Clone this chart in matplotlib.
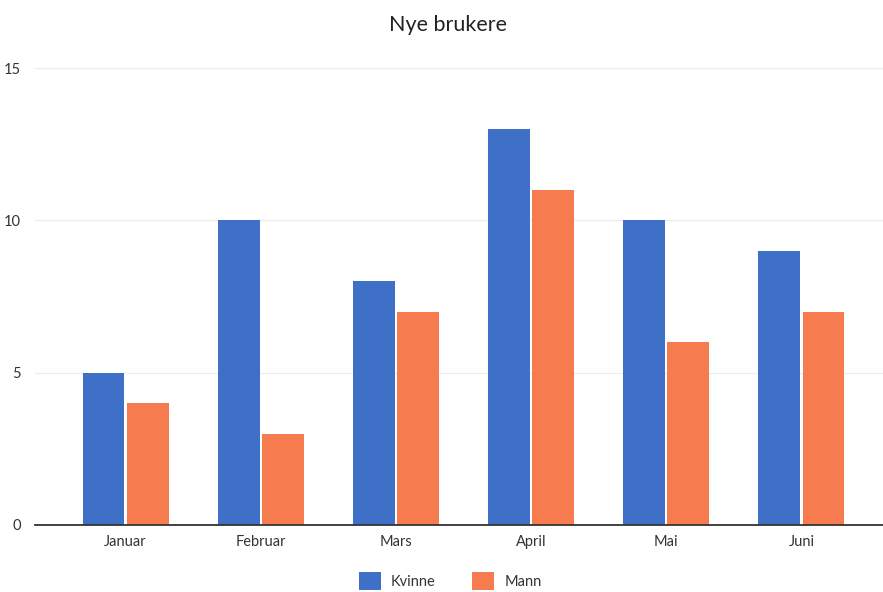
import matplotlib.pyplot as plt
import numpy as np

months = ['Januar', 'Februar', 'Mars', 'April', 'Mai', 'Juni']
kvinne = [5, 10, 8, 13, 10, 9]
mann = [4, 3, 7, 11, 6, 7]
yticks = [0, 5, 10, 15]

plt.rcParams['font.family'] = ['Lato', 'DejaVu Sans']

fig = plt.figure(figsize=(8.83, 5.92), dpi=100)
ax = fig.add_axes([35 / 883, 67 / 592, 857 / 883, 457 / 592])

x = np.arange(len(months))
w = 0.31
ax.bar(x - 0.163, kvinne, w, color='#3e70c8', label='Kvinne', zorder=3)
ax.bar(x + 0.163, mann, w, color='#f67c4f', label='Mann', zorder=3)

ax.set_xlim(-0.67, 5.67)
ax.set_ylim(0, 15)
ax.set_yticks(yticks)
ax.set_xticks(x)
ax.set_xticklabels(months)
ax.tick_params(axis='both', length=0, labelsize=10.5, colors='#333333')
ax.tick_params(axis='x', pad=7)
ax.tick_params(axis='y', pad=10)
ax.grid(axis='y', color='#ececec', linewidth=0.8, zorder=0)
for s in ['top', 'right', 'left']:
    ax.spines[s].set_visible(False)
ax.spines['bottom'].set_color('#333333')
ax.spines['bottom'].set_linewidth(1.3)
ax.spines['bottom'].set_zorder(4)

fig.text(0.507, 0.958, 'Nye brukere', ha='center', va='center', fontsize=15.5, color='#222222')
fig.legend(loc='center', bbox_to_anchor=(0.51, 0.019), ncol=2, frameon=False,
           fontsize=10.5, handlelength=1.5, handleheight=1.5, columnspacing=2.5,
           handletextpad=0.7, labelcolor='#333333')

fig.savefig('out.png', dpi=100)
